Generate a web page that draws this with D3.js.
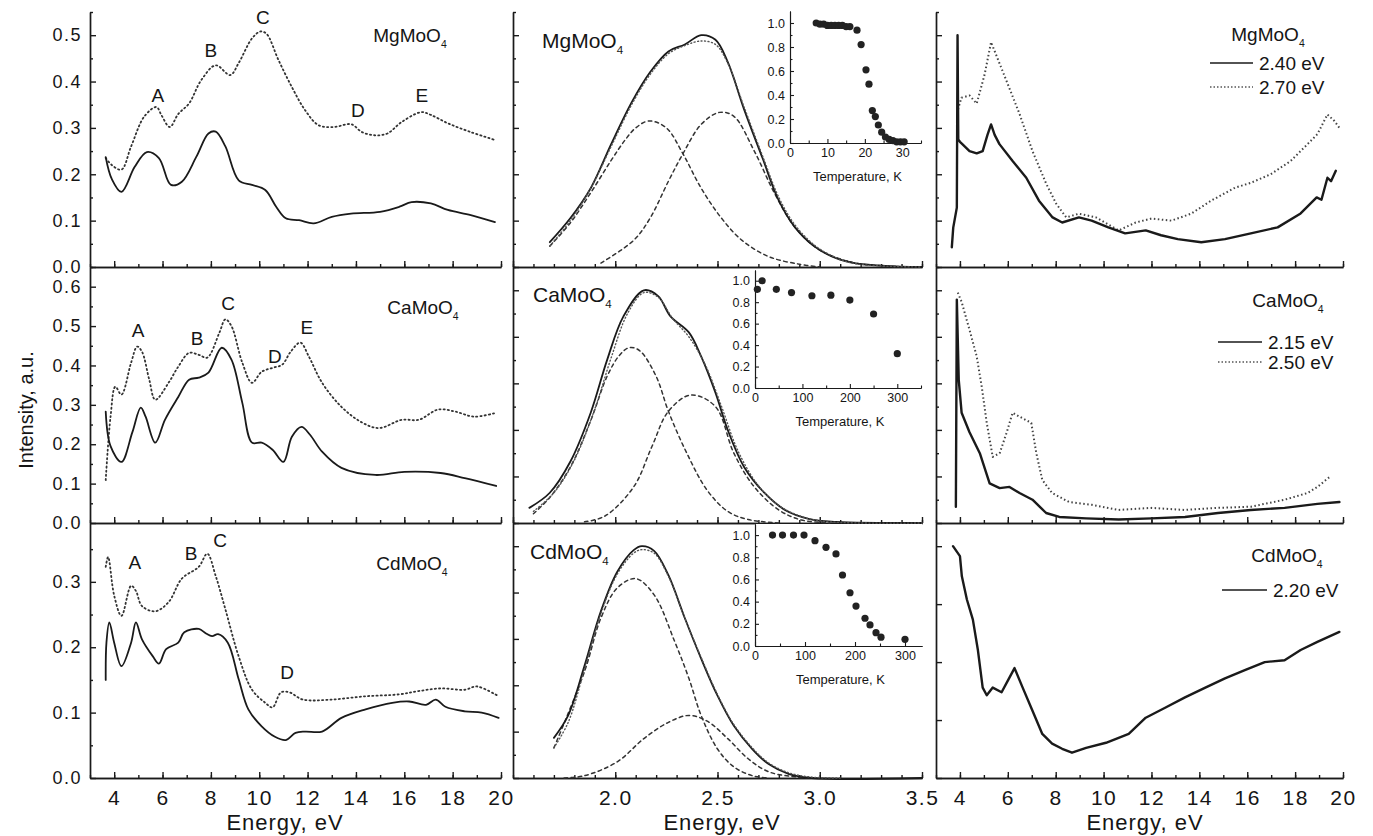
<!DOCTYPE html>
<html><head><meta charset="utf-8">
<script src="https://cdn.jsdelivr.net/npm/d3@7"></script>
<style>
body{margin:0;background:#fff}
text{font-family:'Liberation Sans',Arial,sans-serif;fill:#151515}
</style>
</head><body>
<svg id="c" width="1373" height="836"></svg>
<script>
// ---------- DATA ----------
// Left column: excitation spectra (Energy eV, intensity a.u.)
const mgExcSolid = [[3.65,0.237],[3.9,0.19],[4.3,0.162],[4.85,0.216],[5.35,0.248],[5.85,0.235],[6.35,0.177],[6.8,0.184],[7.4,0.238],[7.9,0.288],[8.2,0.292],[8.6,0.26],[9.15,0.187],[9.7,0.177],[10.25,0.166],[10.7,0.13],[11.1,0.105],[11.65,0.101],[12.25,0.094],[13.0,0.108],[13.8,0.115],[15.0,0.119],[15.8,0.13],[16.3,0.14],[17.1,0.137],[17.8,0.123],[18.75,0.112],[19.75,0.097]];
const mgExcDot = [[3.65,0.235],[3.9,0.22],[4.3,0.21],[4.7,0.26],[5.25,0.325],[5.75,0.345],[5.95,0.328],[6.3,0.302],[6.65,0.33],[7.1,0.353],[7.6,0.403],[8.2,0.435],[8.8,0.414],[9.15,0.44],[9.7,0.493],[10.05,0.508],[10.3,0.503],[10.8,0.446],[11.35,0.388],[11.9,0.338],[12.45,0.306],[13.1,0.302],[13.8,0.308],[14.25,0.291],[14.8,0.284],[15.3,0.288],[15.9,0.313],[16.7,0.334],[17.1,0.328],[17.8,0.31],[18.75,0.291],[19.75,0.274]];
const caExcSolid = [[3.65,0.283],[3.85,0.195],[4.3,0.155],[4.75,0.23],[5.1,0.293],[5.3,0.27],[5.7,0.204],[6.1,0.262],[6.65,0.32],[7.1,0.364],[7.5,0.369],[7.9,0.382],[8.45,0.445],[8.85,0.415],[9.3,0.305],[9.7,0.204],[10.1,0.204],[10.55,0.186],[11.0,0.155],[11.35,0.219],[11.75,0.244],[12.1,0.224],[12.6,0.181],[13.4,0.14],[14.8,0.122],[16.0,0.13],[17.5,0.127],[18.5,0.114],[19.8,0.094]];
const caExcDot = [[3.65,0.109],[3.85,0.27],[4.05,0.346],[4.3,0.326],[4.7,0.407],[4.95,0.448],[5.15,0.435],[5.45,0.364],[5.7,0.313],[6.25,0.356],[6.65,0.397],[7.1,0.432],[7.5,0.427],[7.85,0.42],[8.35,0.483],[8.6,0.517],[8.85,0.5],[9.3,0.407],[9.7,0.356],[10.1,0.384],[10.55,0.394],[10.95,0.402],[11.3,0.435],[11.7,0.458],[12.05,0.423],[12.6,0.356],[13.4,0.295],[14.2,0.257],[14.95,0.241],[15.9,0.262],[16.6,0.262],[17.4,0.288],[18.1,0.283],[18.9,0.27],[19.8,0.28]];
const cdExcSolid = [[3.65,0.15],[3.68,0.207],[3.8,0.238],[4.0,0.207],[4.3,0.171],[4.7,0.207],[4.9,0.238],[5.15,0.212],[5.6,0.186],[5.85,0.175],[6.15,0.197],[6.65,0.207],[6.9,0.223],[7.5,0.228],[7.8,0.221],[8.05,0.217],[8.3,0.22],[8.7,0.207],[9.15,0.151],[9.55,0.105],[10.1,0.079],[10.65,0.063],[11.1,0.058],[11.5,0.069],[11.9,0.071],[12.6,0.071],[13.4,0.092],[14.4,0.105],[15.5,0.115],[16.2,0.117],[16.9,0.112],[17.3,0.12],[17.7,0.109],[18.5,0.102],[19.2,0.1],[19.9,0.092]];
const cdExcDot = [[3.65,0.323],[3.75,0.338],[4.0,0.279],[4.3,0.248],[4.7,0.294],[4.9,0.286],[5.15,0.263],[5.7,0.255],[6.25,0.269],[6.8,0.305],[7.5,0.323],[7.85,0.343],[8.2,0.309],[8.6,0.258],[9.15,0.186],[9.7,0.135],[10.25,0.115],[10.55,0.108],[10.9,0.131],[11.25,0.131],[11.8,0.12],[13.0,0.12],[14.4,0.125],[15.8,0.128],[16.6,0.133],[17.5,0.137],[18.5,0.135],[19.0,0.14],[19.9,0.125]];
const mgLetters = [["A",5.81,0.371],["B",8.0,0.468],["C",10.15,0.539],["D",14.08,0.339],["E",16.73,0.371]];
const caLetters = [["A",4.99,0.49],["B",7.43,0.47],["C",8.71,0.559],["D",10.65,0.424],["E",11.97,0.498]];
const cdLetters = [["A",4.86,0.33],["B",7.18,0.344],["C",8.38,0.364],["D",11.15,0.162]];

// Middle column: emission spectra (normalized), fit and two components
const mgEm = [[1.68,0.107],[1.78,0.21],[1.88,0.34],[1.98,0.53],[2.08,0.71],[2.17,0.84],[2.26,0.93],[2.34,0.96],[2.42,1.0],[2.49,0.98],[2.55,0.885],[2.63,0.68],[2.72,0.47],[2.8,0.286],[2.88,0.17],[2.98,0.085],[3.08,0.038],[3.17,0.017],[3.32,0.005],[3.5,0]];
const mgFit = [[1.68,0.09],[1.78,0.2],[1.88,0.34],[1.98,0.52],[2.08,0.7],[2.17,0.83],[2.26,0.92],[2.34,0.955],[2.42,0.975],[2.49,0.96],[2.55,0.88],[2.63,0.69],[2.72,0.48],[2.8,0.3],[2.88,0.18],[2.98,0.09],[3.08,0.04],[3.17,0.015],[3.32,0.004],[3.5,0]];
const mgG1 = [[1.68,0.09],[1.78,0.19],[1.88,0.32],[1.98,0.46],[2.05,0.55],[2.1,0.6],[2.165,0.63],[2.25,0.6],[2.33,0.49],[2.42,0.34],[2.52,0.21],[2.62,0.115],[2.75,0.045],[2.9,0.012],[3.0,0]];
const mgG2 = [[1.93,0.017],[2.09,0.115],[2.17,0.21],[2.26,0.37],[2.33,0.487],[2.42,0.615],[2.51,0.667],[2.58,0.65],[2.68,0.5],[2.78,0.316],[2.88,0.17],[3.0,0.073],[3.16,0.02],[3.32,0.004],[3.45,0]];
const caEm = [[1.58,0.065],[1.68,0.13],[1.78,0.263],[1.88,0.474],[1.96,0.70],[2.04,0.888],[2.14,1.0],[2.21,0.975],[2.27,0.888],[2.36,0.819],[2.42,0.716],[2.49,0.56],[2.55,0.40],[2.63,0.241],[2.73,0.129],[2.83,0.056],[2.95,0.017],[3.08,0.005],[3.5,0]];
const caFit = [[1.6,0.05],[1.7,0.13],[1.8,0.27],[1.9,0.49],[1.98,0.71],[2.06,0.9],[2.14,0.99],[2.21,0.97],[2.28,0.88],[2.36,0.8],[2.44,0.68],[2.52,0.5],[2.6,0.31],[2.7,0.16],[2.8,0.075],[2.92,0.025],[3.05,0.005],[3.5,0]];
const caG1 = [[1.6,0.04],[1.68,0.11],[1.78,0.24],[1.88,0.44],[1.96,0.63],[2.02,0.72],[2.07,0.754],[2.12,0.74],[2.2,0.63],[2.26,0.48],[2.35,0.3],[2.45,0.14],[2.55,0.05],[2.65,0.015],[2.8,0]];
const caG2 = [[1.85,0.005],[1.95,0.03],[2.09,0.155],[2.18,0.33],[2.26,0.48],[2.37,0.55],[2.49,0.5],[2.58,0.3],[2.68,0.155],[2.8,0.056],[2.91,0.013],[3.05,0]];
const cdEm = [[1.7,0.173],[1.77,0.27],[1.85,0.485],[1.93,0.72],[2.01,0.89],[2.09,0.983],[2.13,1.0],[2.19,0.98],[2.26,0.875],[2.34,0.69],[2.42,0.515],[2.5,0.355],[2.58,0.225],[2.67,0.125],[2.75,0.06],[2.85,0.017],[2.96,0],[3.5,0]];
const cdFit = [[1.7,0.13],[1.77,0.24],[1.85,0.47],[1.93,0.71],[2.01,0.88],[2.09,0.97],[2.13,0.985],[2.19,0.97],[2.26,0.87],[2.34,0.69],[2.42,0.52],[2.5,0.36],[2.58,0.23],[2.67,0.13],[2.75,0.065],[2.85,0.022],[2.96,0.004],[3.1,0]];
const cdG1 = [[1.7,0.13],[1.85,0.46],[1.93,0.69],[2.01,0.82],[2.1,0.86],[2.19,0.79],[2.29,0.59],[2.36,0.43],[2.42,0.27],[2.5,0.125],[2.58,0.048],[2.67,0.01],[2.75,0]];
const cdG2 = [[1.75,0],[1.85,0.01],[2.01,0.07],[2.14,0.17],[2.26,0.24],[2.36,0.27],[2.45,0.245],[2.55,0.17],[2.65,0.083],[2.75,0.027],[2.88,0.005],[3.0,0]];

// Insets: temperature dependence
const mgTemp = [7,8,9,10,11,12,13,14,15,16,17.9,19,20.3,21.1,22,22.8,23.6,24.5,25.5,26.5,27.5,28.5,29.5,30.5];
const mgTempVal = [1.0,0.99,0.99,0.98,0.98,0.98,0.98,0.98,0.97,0.97,0.94,0.82,0.61,0.49,0.27,0.22,0.15,0.09,0.05,0.03,0.02,0.01,0.01,0.01];
const caTemp = [5,15,45,77,120,160,200,250,300];
const caTempVal = [0.92,1.0,0.92,0.89,0.86,0.865,0.82,0.69,0.32];
const cdTemp = [35,55,77,98,120,142,162,175,190,202,220,230,242,252,300];
const cdTempVal = [1.0,1.0,1.0,1.0,0.95,0.89,0.83,0.64,0.48,0.36,0.25,0.19,0.12,0.08,0.06];

// Right column: excitation spectra of emission bands (normalized)
const mgR240 = [[3.66,0.085],[3.72,0.17],[3.87,0.256],[3.9,1.0],[3.93,0.55],[4.0,0.54],[4.1,0.53],[4.4,0.5],[4.7,0.49],[4.95,0.5],[5.15,0.57],[5.3,0.615],[5.45,0.57],[5.65,0.53],[6.2,0.457],[6.77,0.385],[7.3,0.286],[7.87,0.214],[8.27,0.192],[8.97,0.214],[9.5,0.2],[10.2,0.171],[10.9,0.145],[11.76,0.158],[12.4,0.137],[13.1,0.12],[14.08,0.107],[15.07,0.12],[16.15,0.145],[17.27,0.171],[18.23,0.231],[18.9,0.3],[19.1,0.29],[19.35,0.385],[19.5,0.37],[19.7,0.415]];
const mgR270 = [[3.92,0.68],[4.06,0.73],[4.4,0.74],[4.7,0.705],[5.03,0.83],[5.3,0.97],[5.57,0.9],[6.07,0.77],[6.49,0.66],[7.03,0.5],[7.6,0.36],[8.02,0.273],[8.44,0.214],[8.97,0.23],[9.68,0.214],[10.63,0.158],[11.34,0.192],[12.0,0.209],[12.83,0.2],[13.66,0.23],[14.49,0.286],[15.49,0.342],[16.15,0.363],[16.98,0.4],[17.81,0.457],[18.52,0.53],[18.93,0.573],[19.35,0.658],[19.64,0.63],[19.85,0.6]];
const caR215 = [[3.83,0.07],[3.87,0.96],[3.95,0.615],[4.07,0.474],[4.4,0.39],[4.83,0.3],[5.24,0.17],[5.66,0.15],[6.07,0.155],[6.49,0.129],[7.03,0.1],[7.6,0.043],[8.15,0.026],[9.27,0.02],[10.63,0.015],[12.0,0.02],[13.4,0.026],[14.78,0.043],[16.15,0.056],[17.56,0.065],[18.93,0.082],[19.85,0.09]];
const caR250 = [[3.91,0.99],[4.07,0.95],[4.4,0.83],[4.7,0.716],[4.91,0.586],[5.12,0.43],[5.37,0.284],[5.66,0.3],[5.95,0.388],[6.2,0.474],[6.49,0.457],[6.98,0.43],[7.19,0.3],[7.44,0.185],[7.85,0.129],[8.56,0.09],[9.51,0.078],[10.63,0.056],[12.0,0.065],[13.4,0.056],[14.78,0.065],[16.15,0.07],[17.56,0.1],[18.52,0.129],[18.93,0.155],[19.47,0.2]];
const cdR220 = [[3.71,1.0],[4.0,0.957],[4.08,0.87],[4.29,0.77],[4.54,0.683],[4.75,0.552],[4.95,0.39],[5.12,0.357],[5.37,0.39],[5.74,0.37],[6.0,0.42],[6.28,0.474],[6.62,0.39],[7.03,0.29],[7.44,0.19],[7.85,0.148],[8.27,0.126],[8.68,0.109],[9.27,0.13],[10.1,0.152],[11.05,0.19],[11.76,0.26],[12.59,0.304],[13.4,0.348],[14.25,0.39],[15.07,0.43],[15.9,0.465],[16.73,0.5],[17.56,0.508],[18.23,0.552],[18.93,0.587],[19.85,0.63]];

const leftTicks = [4,6,8,10,12,14,16,18,20];
const midTicks = [2.0,2.5,3.0,3.5];

// ---------- LAYOUT ----------
const svg = d3.select("#c");
const INK = "#1a1a1a";
const cols = {
  L:{range:[90,501], dom:[3,20]},
  M:{range:[513,922], dom:[1.5,3.5]},
  R:{range:[936,1343], dom:[3,20]}
};
const rows = [[267,12],[523,267],[778,523]];

function rangeSteps(a,b,s){const o=[];for(let v=a;v<=b+1e-9;v+=s)o.push(+v.toFixed(4));return o;}

function styleAxis(g){
  g.selectAll("path,line").attr("stroke",INK).attr("stroke-width",1.4);
  g.selectAll("text").attr("fill",INK);
}

function makePanel(col,row,opt){
  const c=cols[col], r=rows[row];
  const x=d3.scaleLinear().domain(c.dom).range(c.range);
  const y=d3.scaleLinear().domain([0,opt.ymax]).range(r);
  const g=svg.append("g");
  const ya=g.append("g").attr("transform",`translate(${c.range[0]},0)`);
  ya.call(d3.axisLeft(y).tickValues(opt.yMinor).tickSize(-3).tickSizeOuter(0).tickFormat(""));
  const yb=g.append("g").attr("transform",`translate(${c.range[0]},0)`);
  yb.call(d3.axisLeft(y).tickValues(opt.yMajor).tickSize(-6).tickSizeOuter(0).tickPadding(8)
    .tickFormat(opt.yLabels?d3.format(".1f"):""));
  yb.selectAll("text").attr("font-size",18).attr("letter-spacing",1.5)
    .attr("font-family","'Liberation Sans',Arial,sans-serif");
  styleAxis(ya);styleAxis(yb);
  const xa=g.append("g").attr("transform",`translate(0,${r[0]})`);
  xa.call(d3.axisBottom(x).tickValues(opt.xMinor).tickSize(-3).tickSizeOuter(0).tickFormat(""));
  const xb=g.append("g").attr("transform",`translate(0,${r[0]})`);
  xb.call(d3.axisBottom(x).tickValues(opt.xMajor).tickSize(-6).tickSizeOuter(0).tickPadding(12)
    .tickFormat(opt.xLabels?opt.xFmt:""));
  xb.selectAll("text").attr("font-size",21).attr("letter-spacing",1.5)
    .attr("font-family","'Liberation Sans',Arial,sans-serif");
  styleAxis(xa);styleAxis(xb);
  return {g,x,y};
}

function drawLine(p,data,style){
  const line=d3.line().x(d=>p.x(d[0])).y(d=>p.y(d[1])).curve(style.curve||d3.curveCatmullRom.alpha(0.5));
  p.g.append("path").datum(data).attr("d",line).attr("fill","none")
    .attr("stroke",style.color||INK).attr("stroke-width",style.w||1.6)
    .attr("stroke-dasharray",style.dash||null).attr("stroke-linecap",style.cap||"round").attr("stroke-linejoin","round");
}

function chemLabel(g,x,y,base,size,anchor){
  const t=g.append("text").attr("x",x).attr("y",y).attr("font-size",size)
    .attr("text-anchor",anchor||"middle").attr("fill",INK);
  t.append("tspan").text(base);
  t.append("tspan").text("4").attr("font-size",size*0.55).attr("dy",size*0.3);
  return t;
}

const solid={w:1.8};
const dotted={w:1.8,dash:"1.2,3",color:"#333"};
const dashed={w:1.5,dash:"3.5,3.5",color:"#333"};
const fitStyle={w:1.4,dash:"1,2.5",color:"#555"};

// ---------- LEFT COLUMN ----------
const leftMinor = rangeSteps(3,20,1);
const lp=[
  makePanel("L",0,{ymax:0.55,yMajor:rangeSteps(0,0.5,0.1),yMinor:rangeSteps(0.05,0.55,0.1),yLabels:true,xMajor:leftTicks,xMinor:leftMinor,xLabels:false}),
  makePanel("L",1,{ymax:0.65,yMajor:rangeSteps(0,0.6,0.1),yMinor:rangeSteps(0.05,0.65,0.1),yLabels:true,xMajor:leftTicks,xMinor:leftMinor,xLabels:false}),
  makePanel("L",2,{ymax:0.39,yMajor:rangeSteps(0,0.3,0.1),yMinor:rangeSteps(0.05,0.35,0.1),yLabels:true,xMajor:leftTicks,xMinor:leftMinor,xLabels:true,xFmt:d3.format("d")})
];
drawLine(lp[0],mgExcDot,dotted);drawLine(lp[0],mgExcSolid,solid);
drawLine(lp[1],caExcDot,dotted);drawLine(lp[1],caExcSolid,solid);
drawLine(lp[2],cdExcDot,dotted);drawLine(lp[2],cdExcSolid,solid);
[[lp[0],mgLetters],[lp[1],caLetters],[lp[2],cdLetters]].forEach(([p,ls])=>{
  p.g.selectAll(null).data(ls).enter().append("text")
    .attr("x",d=>p.x(d[1])).attr("y",d=>p.y(d[2])).attr("dy","0.36em")
    .attr("text-anchor","middle").attr("font-size",19).attr("fill",INK).text(d=>d[0]);
});
chemLabel(lp[0].g,410,42,"MgMoO",19);
chemLabel(lp[1].g,423,314,"CaMoO",19);
chemLabel(lp[2].g,412,570,"CdMoO",19);

// ---------- MIDDLE COLUMN ----------
const midMinor = rangeSteps(1.5,3.5,0.1);
const midMajor = [1.5,2.0,2.5,3.0,3.5];
const nMajor = rangeSteps(0,1.0,0.2), nMinor = rangeSteps(0.1,1.1,0.2);
const mp=[
  makePanel("M",0,{ymax:1.1,yMajor:nMajor,yMinor:nMinor,yLabels:false,xMajor:midMajor,xMinor:midMinor,xLabels:false}),
  makePanel("M",1,{ymax:1.1,yMajor:nMajor,yMinor:nMinor,yLabels:false,xMajor:midMajor,xMinor:midMinor,xLabels:false}),
  makePanel("M",2,{ymax:1.1,yMajor:nMajor,yMinor:nMinor,yLabels:false,xMajor:midTicks,xMinor:midMinor,xLabels:true,xFmt:d3.format(".1f")})
];
[[mp[0],mgEm,mgFit,mgG1,mgG2],[mp[1],caEm,caFit,caG1,caG2],[mp[2],cdEm,cdFit,cdG1,cdG2]].forEach(([p,e,f,g1,g2])=>{
  drawLine(p,g1,dashed);drawLine(p,g2,dashed);drawLine(p,e,solid);drawLine(p,f,fitStyle);
});
chemLabel(mp[0].g,542,48,"MgMoO",21,"start");
chemLabel(mp[1].g,533,302,"CaMoO",21,"start");
chemLabel(mp[2].g,530,559,"CdMoO",21,"start");

// insets
function inset(spec){
  const x=d3.scaleLinear().domain(spec.xd).range(spec.xr);
  const y=d3.scaleLinear().domain([0,1.1]).range(spec.yr);
  const g=svg.append("g");
  g.append("rect").attr("x",spec.xr[0]+1).attr("y",spec.yr[1]).attr("width",spec.xr[1]-spec.xr[0]-1)
    .attr("height",spec.yr[0]-spec.yr[1]-1).attr("fill","#fff");
  const ya=g.append("g").attr("transform",`translate(${spec.xr[0]},0)`);
  ya.call(d3.axisLeft(y).tickValues(rangeSteps(0.1,0.9,0.2)).tickSize(-2.5).tickSizeOuter(0).tickFormat(""));
  const yb=g.append("g").attr("transform",`translate(${spec.xr[0]},0)`);
  yb.call(d3.axisLeft(y).tickValues(rangeSteps(0,1.0,0.2)).tickSize(-4).tickSizeOuter(0).tickPadding(5).tickFormat(d3.format(".1f")));
  const xa=g.append("g").attr("transform",`translate(0,${spec.yr[0]})`);
  xa.call(d3.axisBottom(x).tickValues(spec.xMinor).tickSize(-2.5).tickSizeOuter(0).tickFormat(""));
  const xb=g.append("g").attr("transform",`translate(0,${spec.yr[0]})`);
  xb.call(d3.axisBottom(x).tickValues(spec.xMajor).tickSize(-4).tickSizeOuter(0).tickPadding(5).tickFormat(d3.format("d")));
  [ya,yb,xa,xb].forEach(a=>{a.selectAll("path,line").attr("stroke",INK).attr("stroke-width",1.1);
    a.selectAll("text").attr("font-size",12.5).attr("fill",INK).attr("font-family","'Liberation Sans',Arial,sans-serif");});
  g.selectAll("circle").data(spec.t).enter().append("circle")
    .attr("cx",(d,i)=>x(d)).attr("cy",(d,i)=>y(spec.v[i])).attr("r",3.6).attr("fill","#222");
  g.append("text").attr("x",(spec.xr[0]+spec.xr[1])/2+2).attr("y",spec.yr[0]+38)
    .attr("text-anchor","middle").attr("font-size",13).attr("fill",INK).text("Temperature, K");
}
inset({xd:[0,35],xr:[790,921],yr:[143,11],t:mgTemp,v:mgTempVal,xMajor:[0,10,20,30],xMinor:[5,15,25,35]});
inset({xd:[0,350],xr:[755,921],yr:[388,270],t:caTemp,v:caTempVal,xMajor:[0,100,200,300],xMinor:[50,150,250,350]});
inset({xd:[0,334],xr:[755,922],yr:[646,524],t:cdTemp,v:cdTempVal,xMajor:[0,100,200,300],xMinor:[50,150,250]});

// ---------- RIGHT COLUMN ----------
const rp=[
  makePanel("R",0,{ymax:1.1,yMajor:nMajor,yMinor:nMinor,yLabels:false,xMajor:leftTicks,xMinor:leftMinor,xLabels:false}),
  makePanel("R",1,{ymax:1.1,yMajor:nMajor,yMinor:nMinor,yLabels:false,xMajor:leftTicks,xMinor:leftMinor,xLabels:false}),
  makePanel("R",2,{ymax:1.1,yMajor:[0,0.25,0.5,0.75,1.0],yMinor:[],yLabels:false,xMajor:leftTicks,xMinor:leftMinor,xLabels:true,xFmt:d3.format("d")})
];
const rSolid={w:2.4,curve:d3.curveLinear};
const rDot={w:2.0,dash:"1.5,2.5",color:"#444",cap:"butt",curve:d3.curveLinear};
drawLine(rp[0],mgR270,rDot);drawLine(rp[0],mgR240,rSolid);
drawLine(rp[1],caR250,rDot);drawLine(rp[1],caR215,rSolid);
drawLine(rp[2],cdR220,rSolid);
chemLabel(rp[0].g,1268,41,"MgMoO",19);
chemLabel(rp[1].g,1288,307,"CaMoO",19);
chemLabel(rp[2].g,1287,562,"CdMoO",19);
function legendItem(g,x1,x2,y,label,style){
  g.append("line").attr("x1",x1).attr("x2",x2).attr("y1",y).attr("y2",y)
    .attr("stroke",style.color||INK).attr("stroke-width",style.dash?1.6:1.3).attr("stroke-dasharray",style.dash||null);
  g.append("text").attr("x",x2+6).attr("y",y).attr("dy","0.36em").attr("font-size",19).attr("fill",INK).text(label);
}
legendItem(rp[0].g,1210,1253,63,"2.40 eV",{});
legendItem(rp[0].g,1210,1253,87,"2.70 eV",{dash:"1.5,2",color:"#555"});
legendItem(rp[1].g,1218,1262,342,"2.15 eV",{});
legendItem(rp[1].g,1218,1262,362,"2.50 eV",{dash:"1.5,2",color:"#555"});
legendItem(rp[2].g,1222,1267,590,"2.20 eV",{});

// ---------- AXIS TITLES ----------
svg.append("text").attr("transform","translate(26,410) rotate(-90)").attr("text-anchor","middle")
  .attr("dy","0.36em").attr("font-size",20).attr("fill",INK).text("Intensity, a.u.");
[285,722,1145].forEach(cx=>{
  svg.append("text").attr("x",cx).attr("y",830).attr("text-anchor","middle")
    .attr("font-size",22).attr("letter-spacing",1).attr("fill",INK).text("Energy, eV");
});
</script>
</body></html>
